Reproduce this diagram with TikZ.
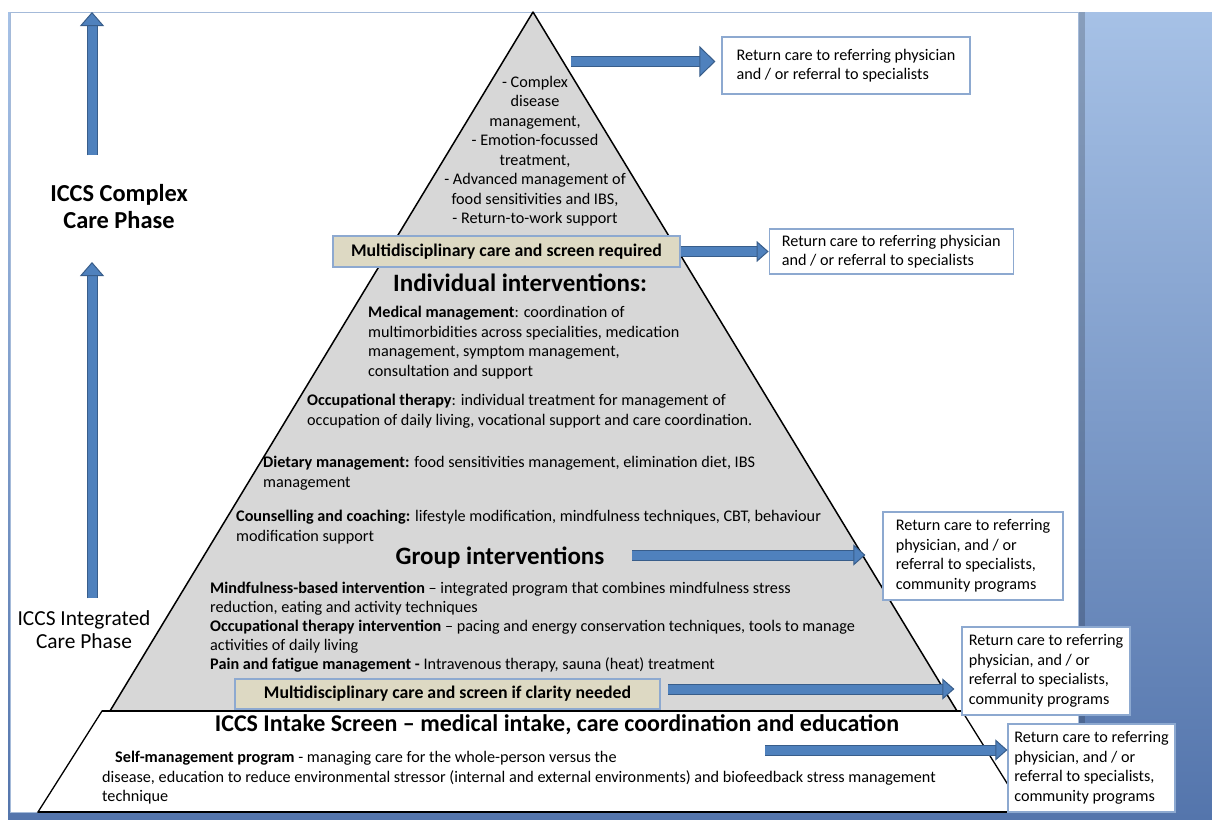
\documentclass[tikz,border=0pt]{standalone}
\usepackage{fontspec}
\setmainfont{Carlito}
\usepackage{tikz}
\usetikzlibrary{shapes,arrows,arrows.meta,positioning,calc}

\definecolor{arrowfill}{HTML}{4F81BD}
\definecolor{arrowedge}{HTML}{385D8A}
\definecolor{tanfill}{HTML}{DDD9C3}
\definecolor{boxedge}{HTML}{8DA9D0}
\definecolor{pyrgray}{HTML}{D7D7D7}
\definecolor{bgtop}{HTML}{A6C1E6}
\definecolor{bgbottom}{HTML}{5475AC}

\tikzstyle{retbox} = [rectangle, draw=boxedge, fill=white, line width=1.2pt,
    align=left, inner xsep=10pt, inner ysep=4pt, font=\fontsize{16.2}{19.5}\selectfont]
\tikzstyle{tanbox} = [rectangle, draw=boxedge, fill=tanfill, line width=1.2pt,
    font=\bfseries\fontsize{17.8}{20}\selectfont]
\tikzstyle{bodytext} = [align=left, inner sep=0pt, anchor=north west,
    font=\fontsize{16.2}{19.5}\selectfont]
\tikzstyle{heading} = [inner sep=0pt, font=\bfseries\fontsize{25}{28}\selectfont]
\tikzstyle{fatarrow} = [draw=arrowfill, line width=9pt,
    -{Triangle[width=21pt,length=12pt,line width=1pt,color=arrowedge,fill=arrowfill]},
    preaction={draw=arrowedge, line width=11pt, arrows=-, shorten >=11pt}]
\tikzstyle{bigarrow} = [fatarrow,
    -{Triangle[width=31pt,length=16pt,line width=1pt,color=arrowedge,fill=arrowfill]},
    preaction={draw=arrowedge, line width=11pt, arrows=-, shorten >=15pt}]
\tikzstyle{uparrow} = [fatarrow,
    -{Triangle[width=24pt,length=14pt,line width=1pt,color=arrowedge,fill=arrowfill]},
    preaction={draw=arrowedge, line width=11pt, arrows=-, shorten >=13pt}]

\begin{document}
\begin{tikzpicture}[x=1pt, y=-1pt]
    \useasboundingbox (0,0) rectangle (1212,819);
    % Background and page
    \shade[top color=bgtop, bottom color=bgbottom] (8,12) rectangle (1212,819);
    \fill[black, opacity=0.18] (1078,12) rectangle (1085,812);
    \draw[fill=white, draw=boxedge!80, line width=1pt] (10,12) rectangle (1078,812);
    % Pyramid
    \draw[fill=pyrgray, line width=1.5pt, line join=round] (533,12) -- (957,711) -- (110,711) -- cycle;
    \draw[fill=white, line width=1.3pt] (102,711) -- (962,711) -- (1025,812) -- (38,812) -- cycle;
    \draw[line width=2.2pt] (102,711) -- (962,711);
    \draw[line width=2.2pt] (38,812) -- (1025,812);

    % Place nodes
    \node [heading, align=center, font=\bfseries\fontsize{24.4}{27}\selectfont] (complex) at (119,207) {ICCS Complex\\Care Phase};
    \node [align=center, inner sep=0pt, font=\fontsize{21.4}{23}\selectfont] (integ) at (84,630) {ICCS Integrated\\Care Phase};

    \node [bodytext, anchor=north, align=center] (toptext) at (535,76) {- Complex\\disease\\management,\\- Emotion-focussed\\treatment,\\- Advanced management of\\food sensitivities  and IBS,\\- Return-to-work support};
    \node [tanbox, minimum width=347pt, minimum height=31pt] (multi1) at (506.5,251.5) {Multidisciplinary care and screen required};
    \node [heading] (indiv) at (520,283) {Individual interventions:};
    \node [bodytext] (medical) at (368,306) {\textbf{Medical management}: coordination of\\multimorbidities across specialities,  medication\\management, symptom management,\\consultation and support};
    \node [bodytext] (occup) at (307,394) {\textbf{Occupational therapy}: individual treatment for management of\\occupation of daily living, vocational support and care coordination.};
    \node [bodytext] (diet) at (263,456) {\textbf{Dietary management:} food sensitivities management, elimination diet, IBS\\management};
    \node [bodytext] (counsel) at (236,510) {\textbf{Counselling and coaching:} lifestyle modification, mindfulness techniques, CBT, behaviour\\modification support};
    \node [heading] (group) at (500,558) {Group interventions};
    \node [bodytext, font=\fontsize{16.2}{19}\selectfont] (groupitems) at (210,582) {\textbf{Mindfulness-based intervention} -- integrated program that combines mindfulness stress\\reduction, eating and activity techniques\\\textbf{Occupational therapy intervention} -- pacing and energy conservation techniques, tools to manage\\activities of daily living\\\textbf{Pain and fatigue management -}  Intravenous therapy, sauna (heat) treatment};
    \node [tanbox, minimum width=425pt, minimum height=30pt] (multi2) at (447.5,694) {Multidisciplinary care and screen if clarity  needed};
    \node [heading, font=\bfseries\fontsize{24}{28}\selectfont] (intake) at (557,725) {ICCS Intake Screen -- medical intake, care coordination and education};
    \node [bodytext] (selfman) at (102,751) {\hspace*{13pt}\textbf{Self-management program}  - managing care for the  whole-person versus the\\disease, education to reduce environmental stressor (internal and external environments) and biofeedback stress management\\technique};

    \node [retbox, minimum width=248pt, minimum height=57pt] (ret1) at (846,65.5) {Return care to referring physician\\and / or referral to specialists};
    \node [retbox, minimum width=244pt, minimum height=45pt, right=88pt of multi1] (ret2) {Return care to referring physician\\and / or referral to specialists};
    \node [retbox, minimum width=180pt, minimum height=88pt] (ret3) at (973,556) {Return care to referring\\physician, and / or\\referral to specialists,\\community programs};
    \node [retbox, inner xsep=6pt, minimum width=168pt, minimum height=88pt] (ret4) at (1046,671) {Return care to referring\\physician, and / or\\referral to specialists,\\community programs};
    \node [retbox, inner xsep=6pt, minimum width=167pt, minimum height=88pt] (ret5) at (1091.5,768) {Return care to referring\\physician, and / or\\referral to specialists,\\community programs};

    \coordinate (up1) at (92,155);
    \coordinate (up1top) at (92,12);
    \coordinate (up2) at (92,598);
    \coordinate (up2top) at (92,262);
    \coordinate (topstart) at (571,61.5);
    \coordinate (grpstart) at (632,555);
    \coordinate (clearstart) at (668,689);
    \coordinate (intakestart) at (765,750);

    % Draw edges
    \path [uparrow] (up1) -- (up1top);
    \path [uparrow] (up2) -- (up2top);
    \path [bigarrow] (topstart) -- ($(topstart -| ret1.west)+(-6,0)$);
    \path [fatarrow] (multi1.east) -- (multi1.east -| ret2.west);
    \path [fatarrow] (grpstart) -- ($(grpstart -| ret3.west)+(-17,0)$);
    \path [fatarrow] (clearstart) -- ($(clearstart -| ret4.west)+(-7,0)$);
    \path [fatarrow] (intakestart) -- (intakestart -| ret5.west);
\end{tikzpicture}
\end{document}
